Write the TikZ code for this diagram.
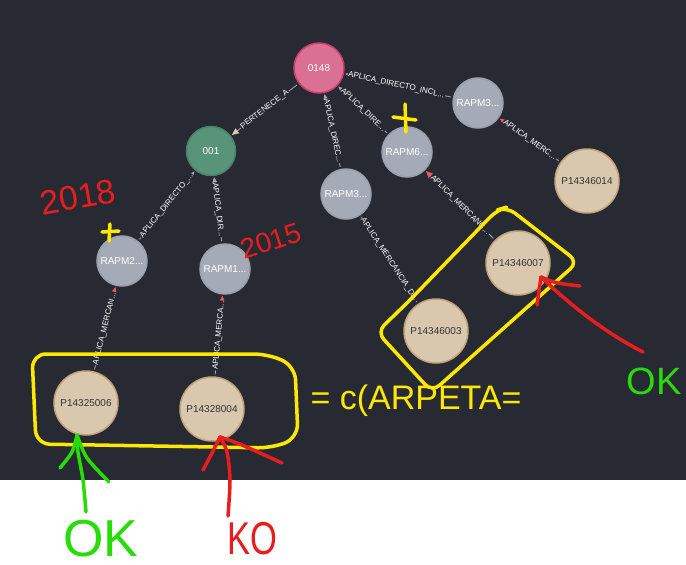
\documentclass[tikz,border=0pt]{standalone}
\usepackage{fontspec}
\setmainfont{Liberation Sans}
\usetikzlibrary{arrows.meta}
\definecolor{bg}{RGB}{40,42,51}
\definecolor{pinkfill}{RGB}{218,113,148}
\definecolor{pinkdraw}{RGB}{204,60,108}
\definecolor{greenfill}{RGB}{87,148,122}
\definecolor{greendraw}{RGB}{74,128,105}
\definecolor{grayfill}{RGB}{165,171,182}
\definecolor{graydraw}{RGB}{154,161,172}
\definecolor{beigefill}{RGB}{217,200,174}
\definecolor{beigedraw}{RGB}{192,163,120}
\definecolor{arrred}{RGB}{242,90,90}
\definecolor{hwyellow}{RGB}{255,232,0}
\definecolor{hwred}{RGB}{232,30,30}
\definecolor{hwgreen}{RGB}{40,220,10}
\tikzset{
  basenode/.style={circle, inner sep=0pt, line width=1.5pt, font=\fontsize{10}{12}\selectfont},
  gnode/.style={basenode, minimum size=50pt, fill=grayfill, draw=graydraw, text=white},
  pinknode/.style={basenode, minimum size=50pt, fill=pinkfill, draw=pinkdraw, text=white},
  greennode/.style={basenode, minimum size=49pt, fill=greenfill, draw=greendraw, text=white},
  pnode/.style={basenode, minimum size=64pt, fill=beigefill, draw=beigedraw, text=black!80},
  rel/.style={draw=grayfill, line width=0.8pt, shorten >=1pt, shorten <=2pt},
  relg/.style={rel, -{Triangle[length=7pt,width=6pt,color=grayfill]}},
  relr/.style={rel, -{Triangle[length=7pt,width=6pt,color=arrred]}},
  relb/.style={rel, -{Triangle[length=7pt,width=6pt,color=beigefill]}},
  lbl/.style={sloped, midway, fill=bg, inner sep=0.8pt, text=white, font=\fontsize{8}{9}\selectfont},
  hw/.style={line width=3.5pt, line cap=round, line join=round},
  hwy/.style={hw, draw=hwyellow},
  hwr/.style={hw, draw=hwred},
  hwg/.style={hw, draw=hwgreen},
  hwtext/.style={inner sep=0pt}
}
\begin{document}
\begin{tikzpicture}[x=1pt,y=-1pt]
\useasboundingbox (0,0) rectangle (686,565);
\fill[white] (0,0) rectangle (686,565);
\fill[bg] (0,0) rectangle (686,480);

% nodes
\node[pinknode] (n0148) at (319,68) {0148};
\node[greennode] (n001) at (211,151) {001};
\node[gnode] (r3a) at (478,103) {RAPM3...};
\node[gnode] (r6) at (407,152) {RAPM6...};
\node[gnode] (r3b) at (346,194) {RAPM3...};
\node[gnode] (r2) at (122,261) {RAPM2...};
\node[gnode] (r1) at (225,269) {RAPM1...};
\node[pnode] (p014) at (587,181) {P14346014};
\node[pnode] (p007) at (518,263) {P14346007};
\node[pnode] (p003) at (436,331) {P14346003};
\node[pnode] (p006) at (86,403) {P14325006};
\node[pnode] (p004) at (212,409) {P14328004};

% relationships
\draw[relb] (n0148) -- node[lbl]{PERTENECE\_A} (n001);
\draw[relg] (r3a) -- node[lbl, pos=0.52]{APLICA\_DIRECTO\_INCL...} (n0148);
\draw[relg] (r6) -- node[lbl]{APLICA\_DIRE...} (n0148);
\draw[relg] (r3b) -- node[lbl]{APLICA\_DIREC...} (n0148);
\draw[relg] (r2) -- node[lbl]{APLICA\_DIRECTO\_...} (n001);
\draw[relg] (r1) -- node[lbl]{APLICA\_DIR...} (n001);
\draw[relr] (p006) -- node[lbl]{APLICA\_MERCAN...} (r2);
\draw[relr] (p004) -- node[lbl]{APLICA\_MERCA...} (r1);
\draw[relr] (p003) -- node[lbl]{APLICA\_MERCANCIA\_D...} (r3b);
\draw[relr] (p007) -- node[lbl]{APLICA\_MERCANC...} (r6);
\draw[relr] (p014) -- node[lbl]{APLICA\_MERC...} (r3a);

% handwritten annotations
\draw[hwy] (405,104) -- (406,132);
\draw[hwy] (393,117) -- (416,120);
\draw[hwy] (110,224) -- (109,241);
\draw[hwy] (102,232) -- (119,231);

\draw[hwy, rounded corners=14pt] (150,354) -- (268,354) -- (295,366) -- (298,438) -- (272,448) -- (36,444) -- (32,354) -- (150,354);
\draw[hwy, rounded corners=10pt] (408,302) -- (497,210) -- (507,207) -- (578,262) -- (432,392) -- (377,332) -- (408,302);

\node[hwtext, text=hwred, rotate=10, font=\fontsize{34}{36}\selectfont] (t2018) at (78,197) {2018};
\node[hwtext, text=hwred, rotate=18, font=\fontsize{28}{30}\selectfont] (t2015) at (271,241) {2015};
\node[hwtext, text=hwyellow, font=\fontsize{34}{36}\selectfont] (tcarpeta) at (416,401) {= c(ARPETA=};
\node[hwtext, text=hwgreen, font=\fontsize{52}{54}\selectfont] (tok1) at (101,539) {OK};
\node[hwtext, text=hwred, xscale=0.75, font=\fontsize{46}{48}\selectfont] (tko) at (252,539) {KO};
\node[hwtext, text=hwgreen, font=\fontsize{38}{40}\selectfont] (tok2) at (654,381) {OK};

% green arrow (OK)
\coordinate (gtip) at (77,435);
\draw[hwg] plot[smooth] coordinates {(86,512) (83,480) (78,452) (gtip)};
\draw[hwg] plot[smooth] coordinates {(gtip) (72,452) (60,468)};
\draw[hwg] plot[smooth] coordinates {(gtip) (87,458) (109,482)};

% red arrow (KO)
\coordinate (rtip) at (220,437);
\draw[hwr] plot[smooth] coordinates {(228,516) (230,480) (227,452) (rtip)};
\draw[hwr] plot[smooth] coordinates {(rtip) (212,453) (203,470)};
\draw[hwr] plot[smooth] coordinates {(rtip) (242,445) (282,463)};

% red arrow to P14346007
\coordinate (r2tip) at (541,277);
\draw[hwr] (643,352) .. controls (600,330) and (565,300) .. (r2tip);
\draw[hwr] (r2tip) -- (537,305);
\draw[hwr] (r2tip) .. controls (555,283) .. (580,286);
\end{tikzpicture}
\end{document}
